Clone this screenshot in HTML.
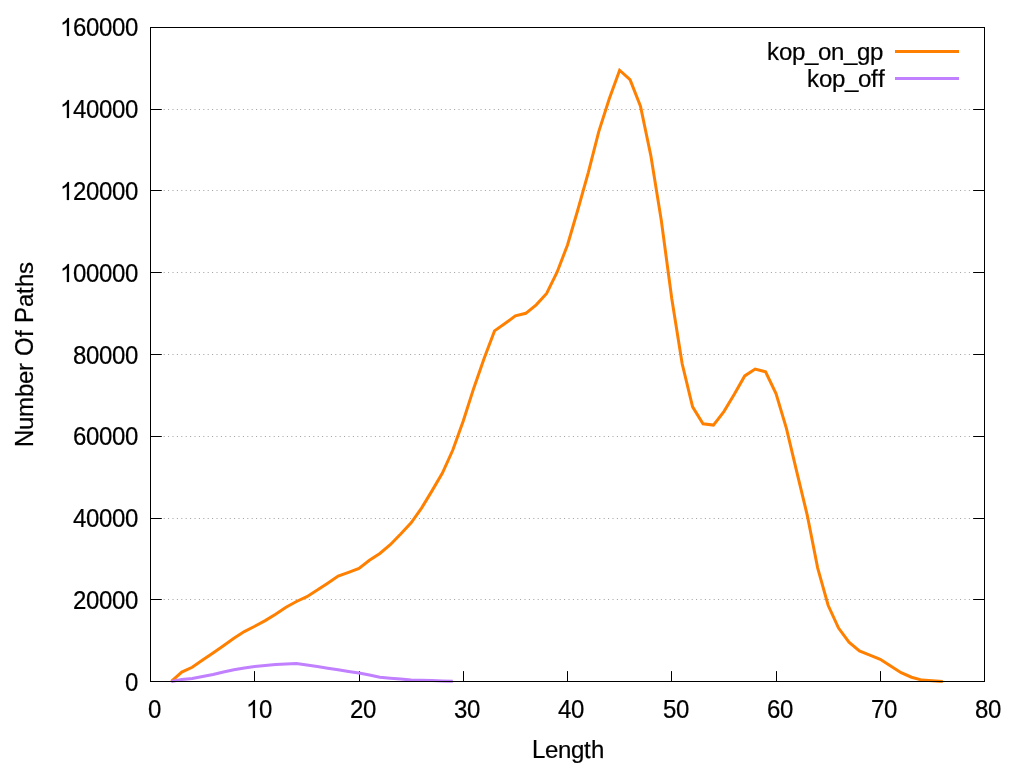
<!DOCTYPE html>
<html><head><meta charset="utf-8"><title>plot</title>
<style>
html,body{margin:0;padding:0;background:#fff;}
body{width:1024px;height:768px;overflow:hidden;}
svg{display:block;will-change:transform;}
text{font-family:"Liberation Sans",sans-serif;font-size:24px;fill:#000;stroke:#000;stroke-width:0.22px;}
.g{fill:#000;stroke:#000;stroke-width:15;}
</style></head><body>
<svg width="1024" height="768" viewBox="0 0 1024 768">
<rect x="0" y="0" width="1024" height="768" fill="#fff"/>
<line x1="150.50" y1="599.50" x2="984.50" y2="599.50" stroke="#000" stroke-opacity="0.5" stroke-width="0.75" stroke-dasharray="1,3.4"/>
<line x1="150.50" y1="518.50" x2="984.50" y2="518.50" stroke="#000" stroke-opacity="0.5" stroke-width="0.75" stroke-dasharray="1,3.4"/>
<line x1="150.50" y1="436.50" x2="984.50" y2="436.50" stroke="#000" stroke-opacity="0.5" stroke-width="0.75" stroke-dasharray="1,3.4"/>
<line x1="150.50" y1="354.50" x2="984.50" y2="354.50" stroke="#000" stroke-opacity="0.5" stroke-width="0.75" stroke-dasharray="1,3.4"/>
<line x1="150.50" y1="272.50" x2="984.50" y2="272.50" stroke="#000" stroke-opacity="0.5" stroke-width="0.75" stroke-dasharray="1,3.4"/>
<line x1="150.50" y1="190.50" x2="984.50" y2="190.50" stroke="#000" stroke-opacity="0.5" stroke-width="0.75" stroke-dasharray="1,3.4"/>
<line x1="150.50" y1="109.50" x2="984.50" y2="109.50" stroke="#000" stroke-opacity="0.5" stroke-width="0.75" stroke-dasharray="1,3.4"/>
<path d="M150.50,681.50 h11.3 M984.50,681.50 h-11.3" stroke="#000" stroke-width="1" fill="none"/>
<g transform="translate(138.05,691.00)" role="img" aria-label="0"><text transform="translate(-13.00,0) scale(1,1.075)">0</text></g>
<path d="M150.50,599.50 h11.3 M984.50,599.50 h-11.3" stroke="#000" stroke-width="1" fill="none"/>
<g transform="translate(138.05,609.00)" role="img" aria-label="20000"><text transform="translate(-65.00,0) scale(1,1.075)">2</text><text transform="translate(-52.00,0) scale(1,1.075)">0</text><text transform="translate(-39.00,0) scale(1,1.075)">0</text><text transform="translate(-26.00,0) scale(1,1.075)">0</text><text transform="translate(-13.00,0) scale(1,1.075)">0</text></g>
<path d="M150.50,518.50 h11.3 M984.50,518.50 h-11.3" stroke="#000" stroke-width="1" fill="none"/>
<g transform="translate(138.05,527.00)" role="img" aria-label="40000"><text transform="translate(-65.00,0) scale(1,1.075)">4</text><text transform="translate(-52.00,0) scale(1,1.075)">0</text><text transform="translate(-39.00,0) scale(1,1.075)">0</text><text transform="translate(-26.00,0) scale(1,1.075)">0</text><text transform="translate(-13.00,0) scale(1,1.075)">0</text></g>
<path d="M150.50,436.50 h11.3 M984.50,436.50 h-11.3" stroke="#000" stroke-width="1" fill="none"/>
<g transform="translate(138.05,445.00)" role="img" aria-label="60000"><text transform="translate(-65.00,0) scale(1,1.075)">6</text><text transform="translate(-52.00,0) scale(1,1.075)">0</text><text transform="translate(-39.00,0) scale(1,1.075)">0</text><text transform="translate(-26.00,0) scale(1,1.075)">0</text><text transform="translate(-13.00,0) scale(1,1.075)">0</text></g>
<path d="M150.50,354.50 h11.3 M984.50,354.50 h-11.3" stroke="#000" stroke-width="1" fill="none"/>
<g transform="translate(138.05,364.00)" role="img" aria-label="80000"><text transform="translate(-65.00,0) scale(1,1.075)">8</text><text transform="translate(-52.00,0) scale(1,1.075)">0</text><text transform="translate(-39.00,0) scale(1,1.075)">0</text><text transform="translate(-26.00,0) scale(1,1.075)">0</text><text transform="translate(-13.00,0) scale(1,1.075)">0</text></g>
<path d="M150.50,272.50 h11.3 M984.50,272.50 h-11.3" stroke="#000" stroke-width="1" fill="none"/>
<g transform="translate(138.05,282.00)" role="img" aria-label="100000"><path class="g" transform="translate(-78.00,0) scale(0.011719,-0.012223)" d="M763 0H583V1147Q518 1085 412.5 1023Q307 961 223 930V1104Q374 1175 487 1276Q600 1377 647 1472H763Z"/><text transform="translate(-65.00,0) scale(1,1.075)">0</text><text transform="translate(-52.00,0) scale(1,1.075)">0</text><text transform="translate(-39.00,0) scale(1,1.075)">0</text><text transform="translate(-26.00,0) scale(1,1.075)">0</text><text transform="translate(-13.00,0) scale(1,1.075)">0</text></g>
<path d="M150.50,190.50 h11.3 M984.50,190.50 h-11.3" stroke="#000" stroke-width="1" fill="none"/>
<g transform="translate(138.05,200.00)" role="img" aria-label="120000"><path class="g" transform="translate(-78.00,0) scale(0.011719,-0.012223)" d="M763 0H583V1147Q518 1085 412.5 1023Q307 961 223 930V1104Q374 1175 487 1276Q600 1377 647 1472H763Z"/><text transform="translate(-65.00,0) scale(1,1.075)">2</text><text transform="translate(-52.00,0) scale(1,1.075)">0</text><text transform="translate(-39.00,0) scale(1,1.075)">0</text><text transform="translate(-26.00,0) scale(1,1.075)">0</text><text transform="translate(-13.00,0) scale(1,1.075)">0</text></g>
<path d="M150.50,109.50 h11.3 M984.50,109.50 h-11.3" stroke="#000" stroke-width="1" fill="none"/>
<g transform="translate(138.05,118.00)" role="img" aria-label="140000"><path class="g" transform="translate(-78.00,0) scale(0.011719,-0.012223)" d="M763 0H583V1147Q518 1085 412.5 1023Q307 961 223 930V1104Q374 1175 487 1276Q600 1377 647 1472H763Z"/><text transform="translate(-65.00,0) scale(1,1.075)">4</text><text transform="translate(-52.00,0) scale(1,1.075)">0</text><text transform="translate(-39.00,0) scale(1,1.075)">0</text><text transform="translate(-26.00,0) scale(1,1.075)">0</text><text transform="translate(-13.00,0) scale(1,1.075)">0</text></g>
<path d="M150.50,27.50 h11.3 M984.50,27.50 h-11.3" stroke="#000" stroke-width="1" fill="none"/>
<g transform="translate(138.05,36.00)" role="img" aria-label="160000"><path class="g" transform="translate(-78.00,0) scale(0.011719,-0.012223)" d="M763 0H583V1147Q518 1085 412.5 1023Q307 961 223 930V1104Q374 1175 487 1276Q600 1377 647 1472H763Z"/><text transform="translate(-65.00,0) scale(1,1.075)">6</text><text transform="translate(-52.00,0) scale(1,1.075)">0</text><text transform="translate(-39.00,0) scale(1,1.075)">0</text><text transform="translate(-26.00,0) scale(1,1.075)">0</text><text transform="translate(-13.00,0) scale(1,1.075)">0</text></g>
<path d="M150.50,681.50 v-10.4" stroke="#000" stroke-width="1" fill="none"/>
<g transform="translate(148.05,718.00)" role="img" aria-label="0"><text transform="translate(0.00,0) scale(1,1.075)">0</text></g>
<path d="M254.50,681.50 v-10.4" stroke="#000" stroke-width="1" fill="none"/>
<g transform="translate(246.05,718.00)" role="img" aria-label="10"><path class="g" transform="translate(0.00,0) scale(0.011719,-0.012223)" d="M763 0H583V1147Q518 1085 412.5 1023Q307 961 223 930V1104Q374 1175 487 1276Q600 1377 647 1472H763Z"/><text transform="translate(13.00,0) scale(1,1.075)">0</text></g>
<path d="M359.50,681.50 v-10.4" stroke="#000" stroke-width="1" fill="none"/>
<g transform="translate(350.05,718.00)" role="img" aria-label="20"><text transform="translate(0.00,0) scale(1,1.075)">2</text><text transform="translate(13.00,0) scale(1,1.075)">0</text></g>
<path d="M463.50,681.50 v-10.4" stroke="#000" stroke-width="1" fill="none"/>
<g transform="translate(454.05,718.00)" role="img" aria-label="30"><text transform="translate(0.00,0) scale(1,1.075)">3</text><text transform="translate(13.00,0) scale(1,1.075)">0</text></g>
<path d="M567.50,681.50 v-10.4" stroke="#000" stroke-width="1" fill="none"/>
<g transform="translate(558.05,718.00)" role="img" aria-label="40"><text transform="translate(0.00,0) scale(1,1.075)">4</text><text transform="translate(13.00,0) scale(1,1.075)">0</text></g>
<path d="M671.50,681.50 v-10.4" stroke="#000" stroke-width="1" fill="none"/>
<g transform="translate(663.05,718.00)" role="img" aria-label="50"><text transform="translate(0.00,0) scale(1,1.075)">5</text><text transform="translate(13.00,0) scale(1,1.075)">0</text></g>
<path d="M776.50,681.50 v-10.4" stroke="#000" stroke-width="1" fill="none"/>
<g transform="translate(767.05,718.00)" role="img" aria-label="60"><text transform="translate(0.00,0) scale(1,1.075)">6</text><text transform="translate(13.00,0) scale(1,1.075)">0</text></g>
<path d="M880.50,681.50 v-10.4" stroke="#000" stroke-width="1" fill="none"/>
<g transform="translate(871.05,718.00)" role="img" aria-label="70"><text transform="translate(0.00,0) scale(1,1.075)">7</text><text transform="translate(13.00,0) scale(1,1.075)">0</text></g>
<path d="M984.50,681.50 v-10.4" stroke="#000" stroke-width="1" fill="none"/>
<g transform="translate(975.05,718.00)" role="img" aria-label="80"><text transform="translate(0.00,0) scale(1,1.075)">8</text><text transform="translate(13.00,0) scale(1,1.075)">0</text></g>
<path d="M171.35,681.40 L181.78,672.10 L192.20,667.25 L202.62,660.00 L213.05,652.90 L223.47,645.75 L233.90,638.25 L244.32,631.60 L254.75,626.25 L265.18,620.60 L275.60,614.20 L286.02,607.30 L296.45,601.50 L306.88,596.65 L317.30,590.10 L327.73,583.15 L338.15,576.00 L348.57,572.30 L359.00,568.50 L369.43,560.25 L379.85,553.50 L390.27,544.70 L400.70,534.00 L411.12,522.75 L421.55,508.10 L431.98,490.90 L442.40,473.10 L452.82,450.00 L463.25,421.00 L473.68,388.40 L484.10,358.40 L494.52,330.90 L504.95,323.50 L515.38,315.90 L525.80,313.30 L536.23,304.80 L546.65,293.40 L557.08,272.20 L567.50,245.00 L577.92,209.50 L588.35,172.30 L598.77,131.60 L609.20,99.10 L619.62,70.25 L630.05,79.60 L640.48,106.25 L650.90,156.00 L661.33,220.60 L671.75,298.50 L682.17,363.75 L692.60,406.90 L703.02,423.75 L713.45,425.10 L723.88,411.60 L734.30,394.30 L744.73,375.90 L755.15,369.00 L765.58,371.80 L776.00,393.50 L786.42,428.30 L796.85,472.20 L807.27,515.30 L817.70,568.10 L828.12,605.25 L838.55,628.10 L848.98,642.20 L859.40,651.00 L869.83,655.10 L880.25,659.25 L890.67,666.00 L901.10,672.75 L911.52,677.25 L921.95,680.10 L932.38,680.80 L942.80,681.40" stroke="#ff8000" stroke-width="3" fill="none" stroke-linejoin="miter" stroke-linecap="butt"/>
<path d="M171.35,681.40 L181.78,679.50 L192.20,678.50 L202.62,676.60 L213.05,674.50 L223.47,672.00 L233.90,669.75 L244.32,667.90 L254.75,666.40 L265.18,665.40 L275.60,664.60 L286.02,663.90 L296.45,663.40 L306.88,665.10 L317.30,666.60 L327.73,668.25 L338.15,669.75 L348.57,671.40 L359.00,673.10 L369.43,675.00 L379.85,677.25 L390.27,678.20 L400.70,679.10 L411.12,679.90 L421.55,680.25 L431.98,680.60 L442.40,681.00 L452.82,681.20" stroke="#c080ff" stroke-width="3" fill="none" stroke-linejoin="miter" stroke-linecap="butt"/>
<rect x="150.5" y="27.5" width="834.0" height="654.0" fill="none" stroke="#000" stroke-width="1"/>
<g transform="translate(883.05,60.00)" role="img" aria-label="kop_on_gp"><text transform="translate(-116.00,0) scale(1,1.030) rotate(0.03)">k</text><text x="-104.00" y="0">o</text><text x="-91.00" y="0">p</text><text x="-78.00" y="0">_</text><text x="-65.00" y="0">o</text><text x="-52.00" y="0">n</text><text x="-39.00" y="0">_</text><text x="-26.00" y="0">g</text><text x="-13.00" y="0">p</text></g>
<line x1="895" y1="51.5" x2="959" y2="51.5" stroke="#ff8000" stroke-width="3"/>
<g transform="translate(885.05,87.00)" role="img" aria-label="kop_off"><text transform="translate(-78.00,0) scale(1,1.030) rotate(0.03)">k</text><text x="-66.00" y="0">o</text><text x="-53.00" y="0">p</text><text x="-40.00" y="0">_</text><text x="-27.00" y="0">o</text><text transform="translate(-14.00,0) scale(1,1.030) rotate(0.03)">f</text><text transform="translate(-7.00,0) scale(1,1.030) rotate(0.03)">f</text></g>
<line x1="895" y1="78.5" x2="959" y2="78.5" stroke="#c080ff" stroke-width="3"/>
<g transform="translate(532.05,758.00)" role="img" aria-label="Length"><text transform="translate(0.00,0) scale(1,1.075)">L</text><text x="13.00" y="0">e</text><text x="26.00" y="0">n</text><text x="39.00" y="0">g</text><text transform="translate(52.00,0) scale(1,1.030) rotate(0.03)">t</text><text transform="translate(59.00,0) scale(1,1.030) rotate(0.03)">h</text></g>
<g transform="translate(33.10,354.50) rotate(-90)" role="img" aria-label="Number Of Paths"><text transform="translate(-92.50,0) scale(1,1.075)">N</text><text x="-75.50" y="0">u</text><text x="-62.50" y="0">m</text><text transform="translate(-42.50,0) scale(1,1.030) rotate(0.03)">b</text><text x="-29.50" y="0">e</text><text x="-16.50" y="0">r</text><text transform="translate(-1.50,0) scale(1,1.075)">O</text><text transform="translate(17.50,0) scale(1,1.030) rotate(0.03)">f</text><text transform="translate(31.50,0) scale(1,1.075)">P</text><text x="47.50" y="0">a</text><text transform="translate(60.50,0) scale(1,1.030) rotate(0.03)">t</text><text transform="translate(67.50,0) scale(1,1.030) rotate(0.03)">h</text><text x="80.50" y="0">s</text></g>
</svg>
</body></html>
